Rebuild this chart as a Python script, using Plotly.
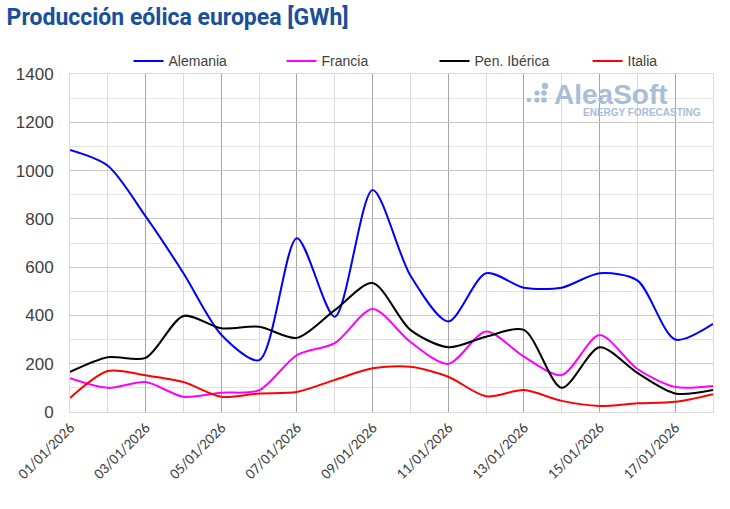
import plotly.graph_objects as go

# Datos diarios (GWh)
fechas = ["2026-01-%02d" % d for d in range(1, 19)]
alemania = [1085, 1020, 810, 575, 320, 215, 720, 395, 920, 565,
            375, 575, 515, 515, 575, 545, 300, 365]
francia = [140, 100, 124, 63, 80, 90, 236, 285, 427, 290,
           199, 333, 229, 153, 319, 178, 104, 108]
iberica = [166, 227, 224, 398, 347, 353, 307, 422, 534, 340,
           268, 312, 340, 100, 268, 162, 77, 91]
italia = [58, 170, 152, 124, 63, 77, 83, 133, 181, 187,
          146, 65, 91, 46, 25, 36, 42, 74]

series = [
    ("Alemania", alemania, "#0000ff"),
    ("Francia", francia, "#ff00ff"),
    ("Pen. Ibérica", iberica, "#000000"),
    ("Italia", italia, "#ff0000"),
]

fig = go.Figure()
for nombre, valores, color in series:
    fig.add_trace(go.Scatter(
        x=fechas, y=valores, name=nombre, mode="lines",
        line=dict(color=color, width=2, shape="spline", smoothing=0.8),
    ))

fig.update_layout(
    width=730, height=509,
    margin=dict(l=70, r=17, t=74, b=97, autoexpand=False),
    paper_bgcolor="white", plot_bgcolor="white",
    font=dict(family="Liberation Sans, Arial, sans-serif", color="#404040"),
    title=dict(
        text="<b>Producción eólica europea [GWh]</b>",
        x=0.009, xanchor="left", y=0.982, yanchor="top",
        font=dict(family="Roboto, sans-serif", size=23, color="#1a4f9c"),
    ),
    legend=dict(
        orientation="h", x=0.091, xanchor="left", y=0.99, yanchor="bottom",
        font=dict(size=14, color="#404040"),
        entrywidth=108, entrywidthmode="pixels", itemwidth=30,
        bgcolor="rgba(0,0,0,0)",
    ),
    showlegend=True,
)

fig.update_xaxes(
    type="date",
    range=["2026-01-01", "2026-01-18"],
    dtick=2 * 86400000, tick0="2026-01-01",
    tickformat="%d/%m/%Y", tickangle=-45,
    tickfont=dict(family="Carlito, Liberation Sans, sans-serif", size=15, color="#404040"),
    showgrid=True, gridcolor="#a6a6a6", gridwidth=1,
    minor=dict(dtick=86400000, showgrid=True, gridcolor="#d9d9d9", gridwidth=1),
    showline=True, linecolor="#d9d9d9", linewidth=1, mirror=True,
    ticks="", zeroline=False,
)
fig.update_yaxes(
    range=[0, 1400], dtick=200, tickformat="d",
    tickfont=dict(size=17, color="#404040"),
    ticklabelstandoff=12,
    showgrid=True, gridcolor="#c8c8c8", gridwidth=1,
    minor=dict(dtick=100, showgrid=True, gridcolor="#e4e4e4", gridwidth=1),
    showline=True, linecolor="#d9d9d9", linewidth=1, mirror=True,
    ticks="", zeroline=False,
)

# Marca de agua AleaSoft
logo_color = "#a9bcd8"
fig.add_annotation(
    xref="paper", yref="paper", x=0.842, y=0.938, xanchor="center", yanchor="middle",
    text="<b>AleaSoft</b>", showarrow=False,
    font=dict(family="Liberation Sans, Arial, sans-serif", size=28, color=logo_color),
)
fig.add_annotation(
    xref="paper", yref="paper", x=0.984, y=0.886, xanchor="right", yanchor="middle",
    text="<b>ENERGY FORECASTING</b>", showarrow=False,
    font=dict(family="Liberation Sans, Arial, sans-serif", size=10, color=logo_color),
)
# puntos del logo (px de la imagen)
puntos = [(529, 100, 2.3), (537, 100, 2.6), (544, 100, 2.8),
          (537, 93, 2.6), (544, 93, 2.8), (545, 86, 3.2)]
for px, py, r in puntos:
    cx = (px - 70) / 643
    cy = (412 - py) / 338
    fig.add_shape(
        type="circle", xref="paper", yref="paper",
        x0=cx - r / 643, x1=cx + r / 643, y0=cy - r / 338, y1=cy + r / 338,
        fillcolor=logo_color, line=dict(width=0),
    )

# sin margen del body para que la figura quede en (0, 0)
fig.write_html("out.html", config={"displayModeBar": False},
               post_script="document.body.style.margin='0';")
